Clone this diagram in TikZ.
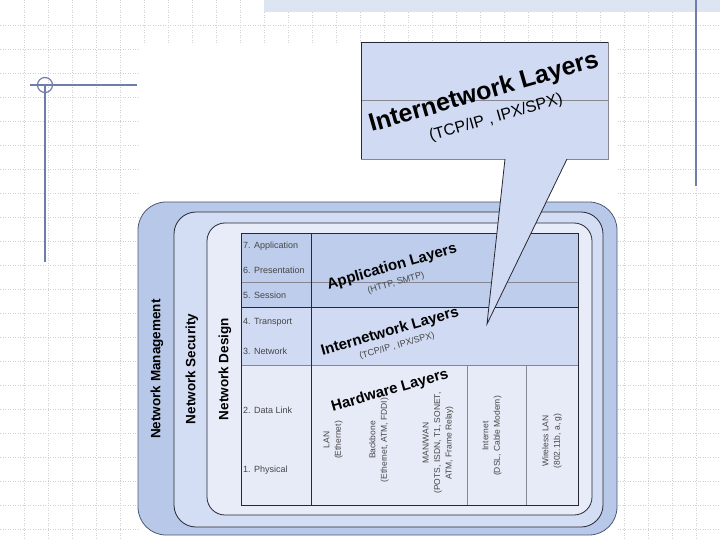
\documentclass[tikz,border=0pt]{standalone}
\usepackage{fontspec}
\setmainfont{Liberation Sans}
\definecolor{gridc}{RGB}{208,208,214}
\definecolor{decoc}{RGB}{110,125,170}
\definecolor{bandc}{RGB}{222,229,242}
\definecolor{outerc}{RGB}{184,200,232}
\definecolor{midc}{RGB}{211,221,243}
\definecolor{innerc}{RGB}{232,236,248}
\definecolor{appc}{RGB}{190,205,236}
\definecolor{netc}{RGB}{208,218,243}
\definecolor{hwc}{RGB}{231,235,247}
\definecolor{callc}{RGB}{208,218,243}
\definecolor{txtg}{RGB}{70,70,70}
\definecolor{lineg}{RGB}{135,135,145}
\definecolor{edgec}{RGB}{40,40,50}
\tikzset{
  gridline/.style={gridc, dash pattern=on 1pt off 1.5pt, line width=0.5pt},
  decoline/.style={decoc, line width=1.2pt},
  cell/.style={font=\fontsize{9}{11}\selectfont, text=txtg, anchor=west, inner sep=0pt},
  coltext/.style={rotate=90, align=center, font=\fontsize{8.5}{11.5}\selectfont, text=txtg, inner sep=0pt},
  bigtitle/.style={rotate=16, font=\bfseries\fontsize{15}{17}\selectfont, inner sep=0pt},
  smalltitle/.style={rotate=16, font=\fontsize{9}{11}\selectfont, text=txtg, inner sep=0pt},
  sidelabel/.style={rotate=90, font=\bfseries\fontsize{13.5}{15}\selectfont, inner sep=0pt},
}
\begin{document}
\begin{tikzpicture}[x=1pt,y=-1pt]
\useasboundingbox (0,0) rectangle (720,540);
% background grid
\foreach \i in {1,...,29} \draw[gridline] (24*\i+0.5,0) -- (24*\i+0.5,540);
\foreach \j in {1,...,22} \draw[gridline] (0,24*\j+1) -- (720,24*\j+1);
\fill[white] (140,44) rectangle (618,540);
\fill[bandc] (264,0) rectangle (720,12);
% decorations
\draw[decoline] (30,85) -- (137,85);
\draw[decoline] (45,85) circle (7.5pt);
\draw[decoline] (45,85) -- (45,262);
\draw[decoline] (696,0) -- (696,186);
% nested rounded frames
\draw[fill=outerc, draw=decoc!70!black, line width=0.8pt, rounded corners=28pt] (138,202) rectangle (617,535);
\draw[fill=midc, draw=edgec, line width=0.8pt, rounded corners=22pt] (174,212) rectangle (603,527);
\draw[fill=innerc, draw=edgec, line width=0.8pt, rounded corners=18pt] (207,223) rectangle (592,515);
% table regions
\fill[appc] (241,233) rectangle (578,307);
\fill[netc] (241,307) rectangle (578,365);
\fill[hwc] (241,365) rectangle (578,505);
\draw[lineg, line width=0.6pt] (241,282) -- (578,282);
\draw[lineg, line width=0.6pt] (241,365) -- (578,365);
\draw[lineg, line width=0.6pt] (467,365) -- (467,505);
\draw[lineg, line width=0.6pt] (526,365) -- (526,505);
\draw[edgec, line width=0.8pt] (241,307) -- (578,307);
\draw[edgec, line width=0.8pt] (311,233) -- (311,505);
\draw[edgec, line width=0.8pt] (241,233) rectangle (578,505);
% side labels
\node[sidelabel] (mgmt) at (157,369) {Network Management};
\node[sidelabel] (sec) at (192,369) {Network Security};
\node[sidelabel] (des) at (225,369) {Network Design};
% OSI layers
\node[cell] (l7) at (243,246) {7. Application};
\node[cell] (l6) at (243,270) {6. Presentation};
\node[cell] (l5) at (243,295) {5. Session};
\node[cell] (l4) at (243,322) {4. Transport};
\node[cell] (l3) at (243,351) {3. Network};
\node[cell] (l2) at (243,410) {2. Data Link};
\node[cell] (l1) at (243,470) {1. Physical};
% layer titles
\node[bigtitle] (appt) at (392,267) {Application Layers};
\node[smalltitle] (apps) at (396,283) {(HTTP, SMTP)};
\node[bigtitle] (nett) at (390,332) {Internetwork Layers};
\node[smalltitle] (nets) at (397,346) {(TCP/IP , IPX/SPX)};
\node[bigtitle] (hwt) at (390,391) {Hardware Layers};
% hardware columns
\node[coltext] (lan) at (333,440) {LAN\\(Ethernet)};
\node[coltext] (bb) at (379,440) {Backbone\\(Ethernet, ATM, FDDI)};
\node[coltext] (man) at (438,443) {MAN/WAN\\(POTS, ISDN, T1, SONET,\\ATM, Frame Relay)};
\node[coltext] (inet) at (492,436) {Internet\\(DSL, Cable Modem)};
\node[coltext] (wlan) at (552,441) {Wireless LAN\\(802.11b, a, g)};
% callout
\coordinate (ctip) at (487,324);
\fill[callc] (361,42) -- (608,42) -- (608,159) -- (567,159) -- (ctip) -- (505,159) -- (361,159) -- cycle;
\draw[lineg, line width=0.7pt] (361,100) -- (608,100);
\draw[edgec, line width=0.8pt] (361,159) -- (361,42) -- (608,42);
\draw[lineg, line width=0.8pt] (608,42) -- (608,159) -- (567,159);
\draw[lineg, line width=0.8pt] (505,159) -- (361,159);
\draw[edgec, line width=0.8pt] (567,159) -- (ctip) -- (505,159);
\node[rotate=16, font=\bfseries\fontsize{25}{28}\selectfont, inner sep=0pt] (callt) at (484,93) {Internetwork Layers};
\node[rotate=16, font=\fontsize{16}{18}\selectfont, inner sep=0pt] (calls) at (496,118) {(TCP/IP , IPX/SPX)};
\end{tikzpicture}
\end{document}
